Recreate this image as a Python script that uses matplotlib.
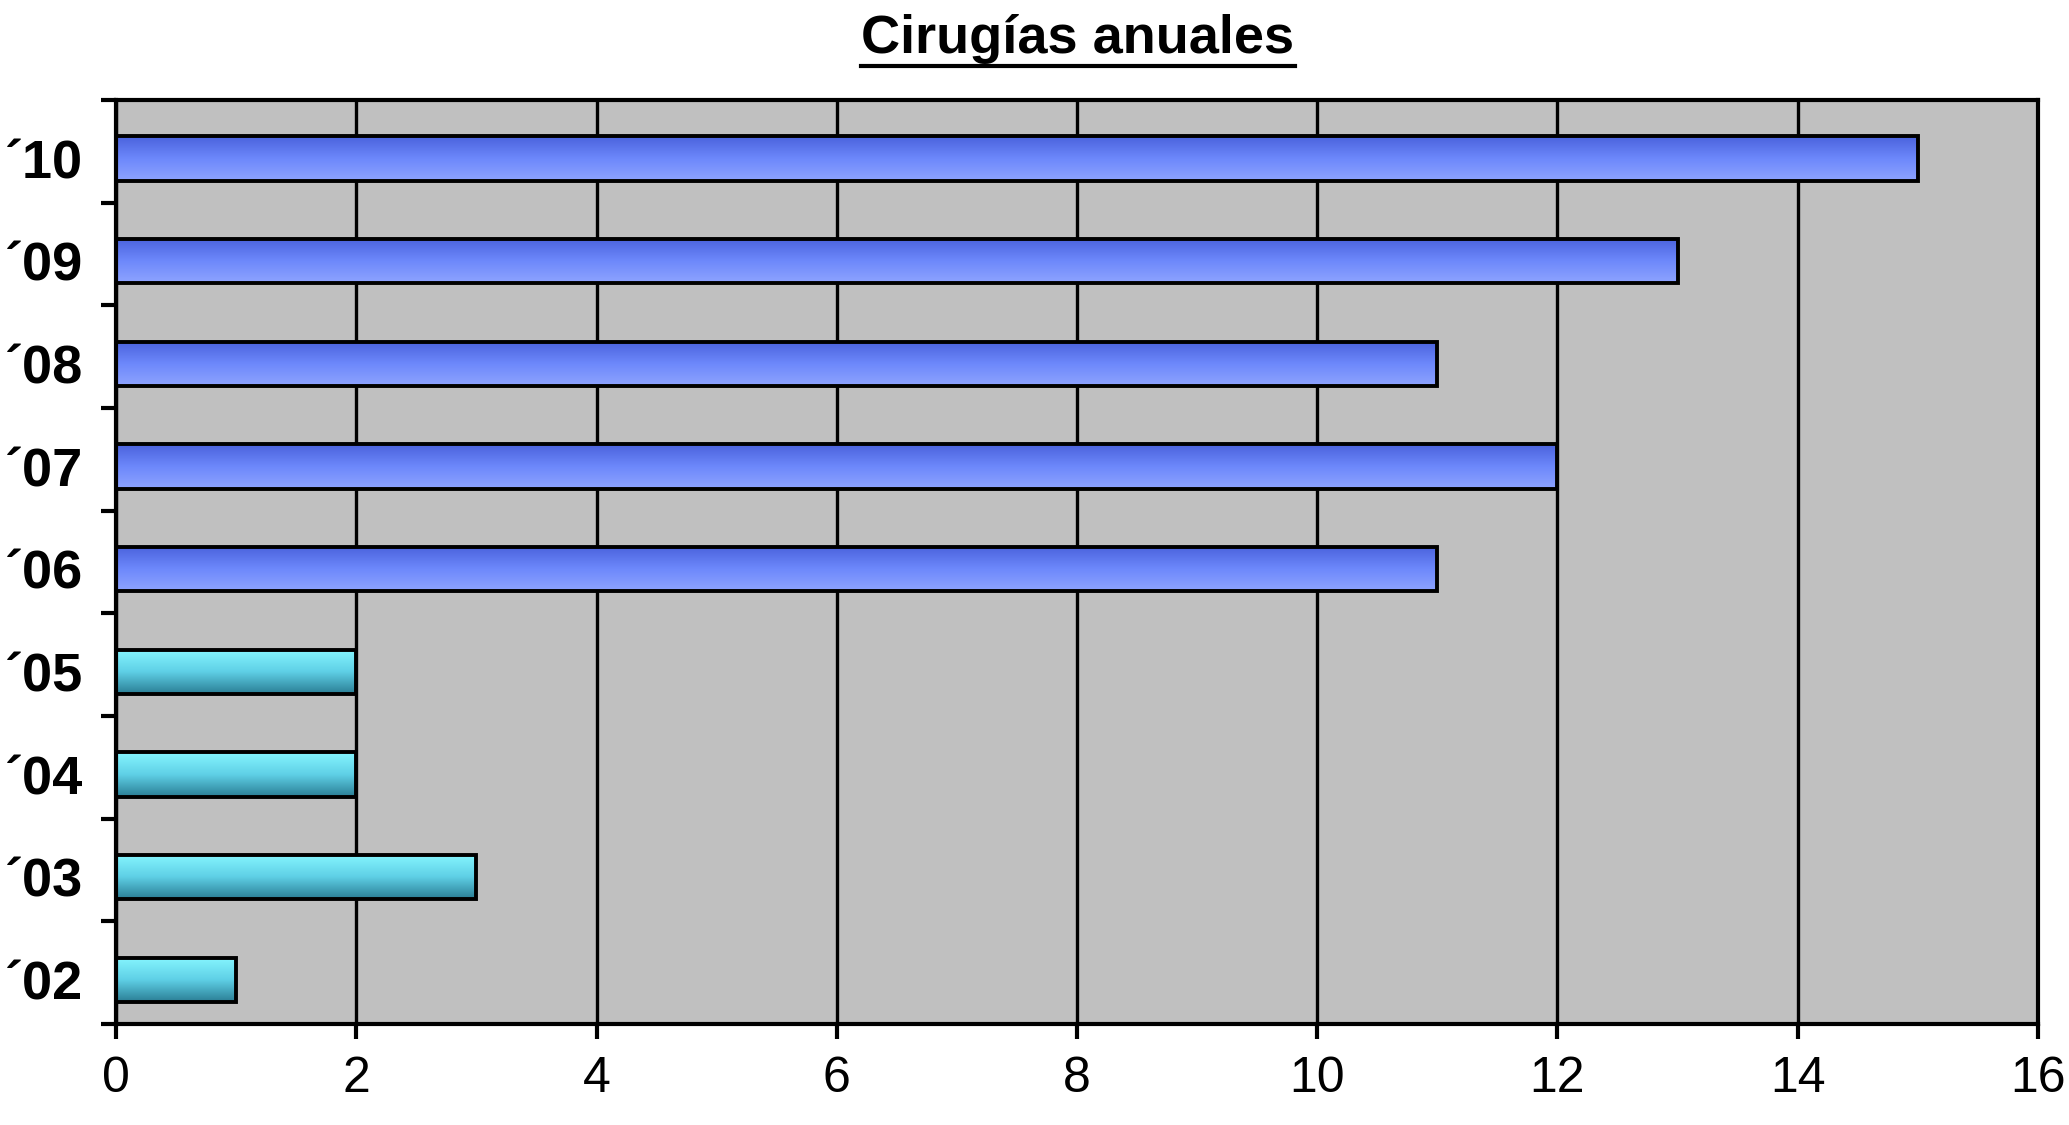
import matplotlib.pyplot as plt
import numpy as np
from matplotlib.colors import LinearSegmentedColormap
from matplotlib.lines import Line2D

plt.rcParams['font.family'] = ['Liberation Sans', 'DejaVu Sans']

years = ['´02', '´03', '´04', '´05', '´06', '´07', '´08', '´09', '´10']
cirugias = [1, 3, 2, 2, 11, 12, 11, 13, 15]
grupo = ['cyan', 'cyan', 'cyan', 'cyan', 'blue', 'blue', 'blue', 'blue', 'blue']

# gradients top -> bottom
grad = {
    'blue': LinearSegmentedColormap.from_list('b', ['#4a62dc', '#6d88fb', '#8ea4ff']),
    'cyan': LinearSegmentedColormap.from_list('c', ['#86f6ff', '#5fd0e6', '#2a7d94']),
}

fig = plt.figure(figsize=(20.69, 11.25), dpi=100)
ax = fig.add_axes([0.0561, 0.0898, 0.9289, 0.8213])
ax.set_facecolor('#c0c0c0')

y = np.arange(len(years))
ypos = y - 0.07  # bars sit a little below the category centre
bars = ax.barh(ypos, cirugias, height=0.43, facecolor='none', edgecolor='black',
               linewidth=2.8, zorder=3)

g = np.linspace(0, 1, 256).reshape(-1, 1)
for b, k in zip(bars, grupo):
    x0, y0 = b.get_x(), b.get_y()
    w, h = b.get_width(), b.get_height()
    im = ax.imshow(g, cmap=grad[k], aspect='auto', extent=[x0, x0 + w, y0, y0 + h],
                   origin='upper', zorder=2, interpolation='bicubic')
    im.set_clip_path(b)
ax.set_xlim(0, 16)
ax.set_ylim(-0.5, len(years) - 0.5)

ax.set_xticks(range(0, 17, 2))
ax.set_yticks(ypos)
ax.set_yticklabels(years, fontsize=39, fontweight='bold')
ax.set_yticks(np.arange(-0.5, len(years), 1), minor=True)
ax.tick_params(axis='y', which='major', length=0, pad=24)
ax.tick_params(axis='y', which='minor', length=11, width=3)
ax.tick_params(axis='x', length=11, width=3, labelsize=36, pad=12)
ax.grid(axis='x', color='black', linewidth=2.4, zorder=1)
ax.set_axisbelow(True)
for s in ax.spines.values():
    s.set_linewidth(3)

t = fig.text(0.521, 0.953, 'Cirugías anuales', fontsize=39, fontweight='bold',
             ha='center', va='baseline')
fig.canvas.draw()
bb = t.get_window_extent().transformed(fig.transFigure.inverted())
yl = 0.953 - 0.012
fig.add_artist(Line2D([bb.x0, bb.x1], [yl, yl], color='black', linewidth=3,
                      transform=fig.transFigure))

fig.savefig('out.png', dpi=100)
